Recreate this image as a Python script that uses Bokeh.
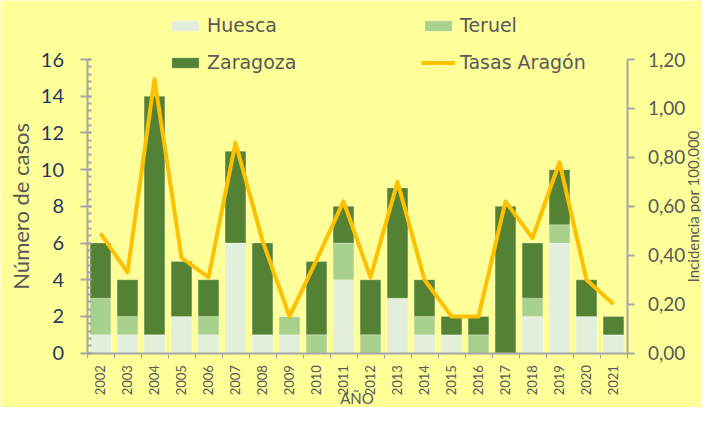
import math
from bokeh.plotting import figure
from bokeh.models import (Range1d, LinearAxis, FixedTicker, SingleIntervalTicker,
                          CustomJSTickFormatter, Legend, LegendItem, Label, ColumnDataSource)
from bokeh.embed import file_html
from bokeh.resources import INLINE

# ---- data ----
years = list(range(2002, 2022))
huesca = [1, 1, 1, 2, 1, 6, 1, 1, 0, 4, 0, 3, 1, 1, 0, 0, 2, 6, 2, 1]
teruel = [2, 1, 0, 0, 1, 0, 0, 1, 1, 2, 1, 0, 1, 0, 1, 0, 1, 1, 0, 0]
zaragoza = [3, 2, 13, 3, 2, 5, 5, 0, 4, 2, 3, 6, 2, 1, 1, 8, 3, 3, 2, 1]
tasas = [0.49, 0.33, 1.12, 0.39, 0.31, 0.86, 0.46, 0.15, 0.38, 0.62,
         0.31, 0.70, 0.30, 0.15, 0.15, 0.62, 0.47, 0.78, 0.30, 0.20]
rate_ticks = [0.0, 0.2, 0.4, 0.6, 0.8, 1.0, 1.2]
series_names = ["Huesca", "Teruel", "Zaragoza"]
line_name = "Tasas Aragón"
y_title = "Número de casos"
y2_title = "Incidencia por 100.000"
x_title = "AÑO"

BG = "#FFFF99"
C_H, C_T, C_Z = "#E2EFDA", "#A9D18E", "#548235"
C_LINE = "#FFC000"
GRAY_TXT = "#595959"
AX = "#A6A6A6"
FONT = "Lato"

# ---- layout (pixels) ----
W, H = 701, 407
plot_l, plot_r, plot_t, plot_b = 86.5, 626.5, 59.0, 352.7
cases_max, rate_max = 16, 1.2
x0, x1 = years[0] - 0.5, years[-1] + 0.5
px_x = (plot_r - plot_l) / (x1 - x0)
px_y = (plot_b - plot_t) / cases_max
xr = Range1d(x0 - plot_l / px_x, x1 + (W - plot_r) / px_x)
yr = Range1d(-(H - plot_b) / px_y, cases_max + plot_t / px_y)
k = rate_max / cases_max
rr = Range1d(yr.start * k, yr.end * k)

src = ColumnDataSource(dict(year=years, Huesca=huesca, Teruel=teruel,
                            Zaragoza=zaragoza, tasa=tasas))

p = figure(width=W, height=H, output_backend="svg", toolbar_location=None,
           x_range=xr, y_range=yr, x_axis_location=None, y_axis_location=None,
           min_border=0, min_border_left=0, min_border_right=0, min_border_top=0,
           min_border_bottom=0,
           background_fill_color=BG, border_fill_color=BG, outline_line_color=None)
p.xgrid.visible = False
p.ygrid.visible = False
p.extra_y_ranges = {"rate": rr}

bars = p.vbar_stack(series_names, x="year", width=0.77, source=src,
                    color=[C_H, C_T, C_Z], line_color="white", line_alpha=0.25, line_width=1)
ln = p.line("year", "tasa", source=src, y_range_name="rate", line_color=C_LINE,
            line_width=4, line_join="round")

# x axis
xa = LinearAxis(fixed_location=0, bounds=(x0, x1),
                ticker=FixedTicker(ticks=years, minor_ticks=[y - 0.5 for y in years] + [x1]))
xa.major_tick_line_color = None
xa.major_tick_out = 0
xa.major_tick_in = 0
xa.minor_tick_out = 5
xa.minor_tick_in = 0
xa.minor_tick_line_color = AX
xa.axis_line_color = AX
xa.axis_line_width = 2
xa.major_label_orientation = math.pi / 2
xa.major_label_text_font = FONT
xa.major_label_text_font_size = "13px"
xa.major_label_text_color = GRAY_TXT
xa.major_label_standoff = 7
p.add_layout(xa, "below")

# left axis
ya = LinearAxis(fixed_location=x0, bounds=(0, cases_max),
                ticker=SingleIntervalTicker(interval=2, num_minor_ticks=5))
ya.axis_line_color = AX
ya.axis_line_width = 2
ya.major_tick_line_color = AX
ya.major_tick_line_width = 2
ya.major_tick_out = 7
ya.major_tick_in = 4
ya.minor_tick_line_color = AX
ya.minor_tick_line_width = 2
ya.minor_tick_out = 0
ya.minor_tick_in = 4
ya.major_label_text_font = FONT
ya.major_label_text_font_size = "20px"
ya.major_label_text_color = "#1F3864"
ya.major_label_standoff = 16
p.add_layout(ya, "left")

# right axis
ra = LinearAxis(y_range_name="rate", fixed_location=x1, bounds=(0, rate_max),
                ticker=FixedTicker(ticks=rate_ticks),
                formatter=CustomJSTickFormatter(code="return tick.toFixed(2).replace('.', ',');"))
ra.axis_line_color = AX
ra.axis_line_width = 2
ra.major_tick_line_color = AX
ra.major_tick_line_width = 2
ra.major_tick_out = 7
ra.major_tick_in = 0
ra.minor_tick_line_color = None
ra.major_label_text_font = FONT
ra.major_label_text_font_size = "19px"
ra.major_label_text_color = GRAY_TXT
ra.major_label_standoff = 14
p.add_layout(ra, "right")

# axis titles
mid_y = H - (plot_t + plot_b) / 2
p.add_layout(Label(x=20, y=mid_y, x_units="screen", y_units="screen", text=y_title,
                   angle=math.pi / 2, text_align="center", text_baseline="middle",
                   text_font=FONT, text_font_size="22px", text_color=GRAY_TXT))
p.add_layout(Label(x=692, y=mid_y, x_units="screen", y_units="screen", text=y2_title,
                   angle=math.pi / 2, text_align="center", text_baseline="middle",
                   text_font=FONT, text_font_size="15px", text_color=GRAY_TXT))
p.add_layout(Label(x=(plot_l + plot_r) / 2, y=1, x_units="screen", y_units="screen",
                   text=x_title, text_align="center", text_baseline="bottom",
                   text_font=FONT, text_font_size="15px", text_color=GRAY_TXT))

# legends (two columns); location = bottom-left corner, from frame bottom
def mk_legend(items, x):
    return Legend(items=items, location=(x, H - 73), orientation="vertical",
                  background_fill_alpha=0, border_line_color=None, padding=0, margin=0,
                  spacing=15, glyph_width=34, glyph_height=13, label_standoff=5,
                  label_text_font="DejaVu Sans", label_text_font_size="19px",
                  label_text_color=GRAY_TXT)

p.add_layout(mk_legend([LegendItem(label=series_names[0], renderers=[bars[0]]),
                        LegendItem(label=series_names[2], renderers=[bars[2]])], 168))
p.add_layout(mk_legend([LegendItem(label=series_names[1], renderers=[bars[1]]),
                        LegendItem(label=line_name, renderers=[ln])], 421))

open("out.html", "w").write(file_html(p, INLINE))
